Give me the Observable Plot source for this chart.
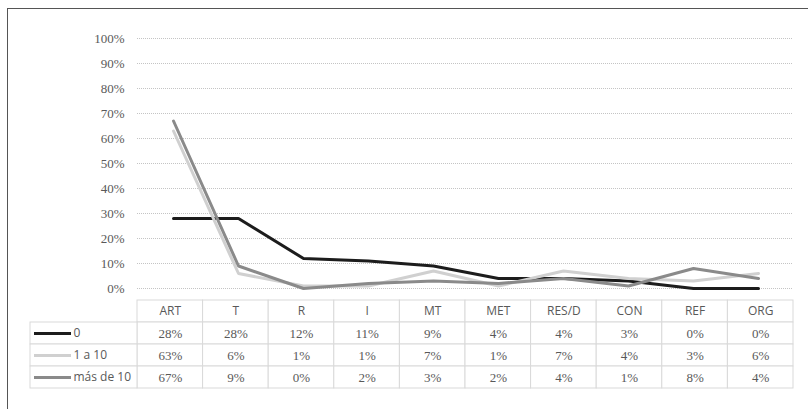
<!DOCTYPE html>
<html><head><meta charset="utf-8">
<script src="https://cdn.jsdelivr.net/npm/d3@7"></script>
<script src="https://cdn.jsdelivr.net/npm/@observablehq/plot@0.6"></script>
<style>
body{margin:0;background:#fff;}
#wrap{position:relative;width:808px;height:409px;overflow:hidden;background:#fff;}
#border{position:absolute;left:7px;top:8px;width:900px;height:500px;border:1px solid #555;}
#chart,#table{position:absolute;left:0;}
#chart{top:0;} #table{top:298px;}
svg{overflow:visible;}
svg g.pct text, svg g.pct{font-family:'Liberation Serif' !important;}
</style></head><body>
<div id="wrap"><div id="border"></div><div id="chart"></div><div id="table"></div></div>
<script>
// ---- data ----
const categories = ["ART", "T", "R", "I", "MT", "MET", "RES/D", "CON", "REF", "ORG"];
const seriesNames = ["0", "1 a 10", "más de 10"];
const serie0 = [28, 28, 12, 11, 9, 4, 4, 3, 0, 0];
const serie1a10 = [63, 6, 1, 1, 7, 1, 7, 4, 3, 6];
const serieMas10 = [67, 9, 0, 2, 3, 2, 4, 1, 8, 4];
const yTicks = [0, 10, 20, 30, 40, 50, 60, 70, 80, 90, 100];
const seriesColors = ["#1c1c1c", "#d0d0d0", "#8a8a8a"];

// ---- build records ----
const seriesValues = [serie0, serie1a10, serieMas10];
const records = [];
seriesNames.forEach((s, k) => categories.forEach((c, i) => records.push({series: s, cat: c, i, v: seriesValues[k][i]})));

const serif = "Liberation Serif";
const sans = "Open Sans";
const textColor = "#595959";
const W = 808;
const plotLeft = 137, plotRight = 15;

// ---- line chart ----
const chart = Plot.plot({
  width: W, height: 298,
  marginLeft: plotLeft, marginRight: plotRight, marginTop: 38, marginBottom: 10,
  style: {background: "transparent", color: textColor, fontFamily: serif, fontSize: "13px"},
  x: {type: "point", domain: categories, padding: 0.5, axis: null},
  y: {domain: [0, 100], axis: null, label: null},
  color: {domain: seriesNames, range: seriesColors},
  marks: [
    Plot.gridY(yTicks, {stroke: "#c4c4c4", strokeOpacity: 1, strokeDasharray: "1,1"}),
    Plot.axisY(yTicks, {tickSize: 0, tickPadding: 13, label: null, tickFormat: d => d + "%", fontSize: 13, fontFamily: serif, fill: textColor, className: "pct"}),
    Plot.line(records, {x: "cat", y: "v", z: "series", stroke: "series", strokeWidth: 3, strokeLinejoin: "round", strokeLinecap: "round"})
  ]
});
document.getElementById("chart").append(chart);

// ---- data table ----
const colPx = (W - plotLeft - plotRight) / categories.length;
const tableLeft = 30;
const L = (plotLeft - tableLeft) / colPx; // legend column width in column units
const rows = ["hdr", ...seriesNames];
const cells = [];
categories.forEach((c, i) => rows.forEach(r => cells.push({x1: i, x2: i + 1, row: r})));
seriesNames.forEach(r => cells.push({x1: -L, x2: 0, row: r}));
const headerCells = categories.map((c, i) => ({x: i + 0.5, row: "hdr", label: c}));
const valueCells = records.map(d => ({x: d.i + 0.5, row: d.series, label: d.v + "%"}));

const table = Plot.plot({
  width: W, height: 111,
  marginLeft: tableLeft, marginRight: plotRight, marginTop: 1, marginBottom: 20,
  style: {background: "transparent", color: textColor, fontFamily: sans, fontSize: "12px"},
  x: {domain: [-L, categories.length], axis: null},
  y: {type: "band", domain: rows, padding: 0, axis: null},
  color: {domain: seriesNames, range: seriesColors},
  marks: [
    Plot.barX(cells, {x1: "x1", x2: "x2", y: "row", fill: "white", stroke: "#d9d9d9", strokeWidth: 1}),
    Plot.text(headerCells, {x: "x", y: "row", text: "label", fontSize: 12, fontFamily: sans, fill: textColor}),
    Plot.text(valueCells, {x: "x", y: "row", text: "label", fontSize: 13, fontFamily: serif, fill: textColor, className: "pct"}),
    Plot.ruleY(seriesNames, {y: d => d, x1: () => -L + 4 / colPx, x2: () => -L + 41 / colPx, stroke: d => d, strokeWidth: 3}),
    Plot.text(seriesNames, {x: () => -L, y: d => d, text: d => d, textAnchor: "start", dx: 43, fontSize: 12, fontFamily: sans, fill: textColor})
  ]
});
document.getElementById("table").append(table);
</script>
</body></html>
